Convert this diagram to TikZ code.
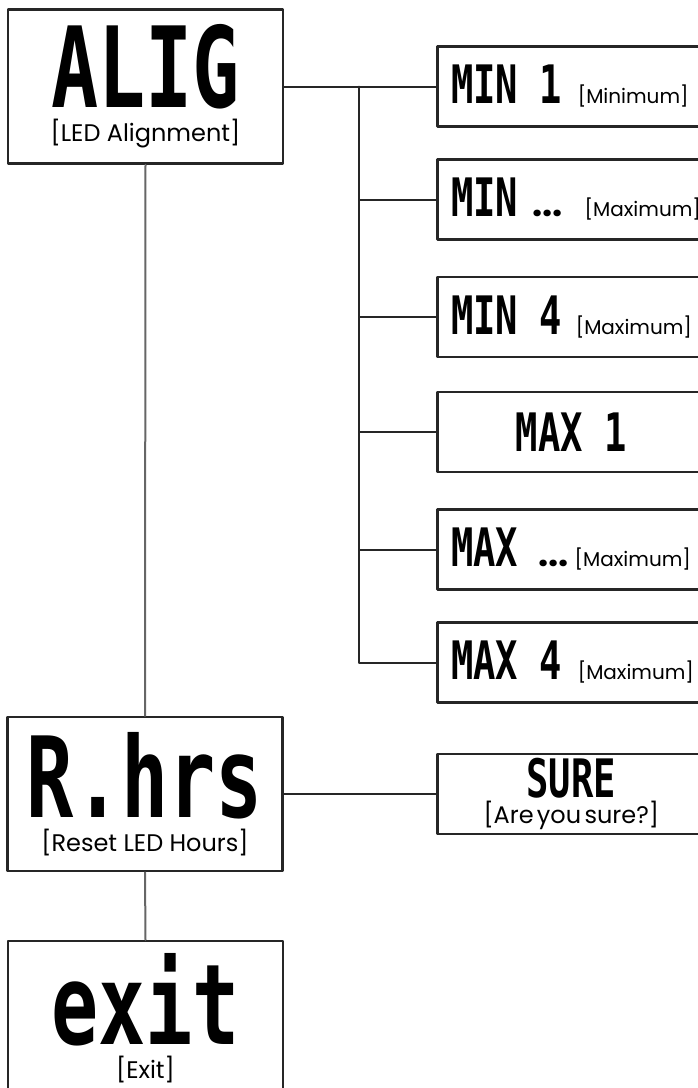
\documentclass[tikz,border=0pt]{standalone}
\usepackage{fontspec}
\setmainfont{Poppins}
\newfontfamily\segfont[FakeStretch=0.7]{DejaVu Sans Mono}
\usepackage{tikz}

\newcommand{\dispbig}[1]{{\fontsize{112}{112}\selectfont\segfont\bfseries #1}}
\newcommand{\dispsmall}[1]{{\fontsize{53}{53}\selectfont\segfont\bfseries\spaceskip=0.4em\relax #1}}
\newcommand{\note}[1]{{\fontsize{24}{26}\selectfont #1}}
\newcommand{\notesmall}[1]{{\fontsize{20}{22}\selectfont #1}}
\newcommand{\seqdots}{{\fontsize{36}{36}\selectfont\bfseries ...}}

\tikzset{
    menubox/.style={draw=black!85, line width=2.5pt, minimum width=275pt, minimum height=154pt, align=center, inner sep=0pt},
    subbox/.style={draw=black!85, line width=2.5pt, minimum height=80pt, text width=290pt, inner xsep=14pt, align=left, anchor=west},
    centred/.style={text width=240pt, align=center},
    trunk/.style={draw=black!60, line width=2pt},
    branch/.style={draw=black!85, line width=2pt}
}

\begin{document}
\begin{tikzpicture}[
    x=1pt, y=-1pt,
    line cap=round,
    line join=round
]
\useasboundingbox (0,0) rectangle (698,1088);
\clip (0,0) rectangle (698,1088);

% main menu entries
\node[menubox] (alig) at (145.5,86.5) {\dispbig{ALIG}\\[9pt]\note{[LED Alignment]}};
\node[menubox] (rhrs) at (145,794) {\dispbig{R.hrs}\\[9pt]\note{[Reset LED Hours]}};
\node[menubox] (exit) at (145.5,1018) {\dispbig{exit}\\[9pt]\note{[Exit]}};

% sub entries
\node[subbox] (minone) at (436,86.5) {\dispsmall{MIN 1}\hspace{16pt}\notesmall{[Minimum]}};
\node[subbox] (mindots) at (436,199.5) {\dispsmall{MIN}\hspace{14pt}\seqdots\hspace{22pt}\notesmall{[Maximum]}};
\node[subbox] (minfour) at (436,317) {\dispsmall{MIN 4}\hspace{14pt}\notesmall{[Maximum]}};
\node[subbox, centred] (maxone) at (436,432) {\dispsmall{MAX 1}};
\node[subbox] (maxdots) at (436,549.5) {\dispsmall{MAX}\hspace{20pt}\seqdots\hspace{6pt}\notesmall{[Maximum]}};
\node[subbox] (maxfour) at (436,662.5) {\dispsmall{MAX 4}\hspace{16pt}\notesmall{[Maximum]}};
\node[subbox, centred] (sure) at (436,794) {\dispsmall{SURE}\\[2pt]\note{[Are you sure?]}};

% connectors
\coordinate (bus) at (359,86.5);
\draw[branch] (alig.east) -- (minone.west);
\draw[branch] (bus) |- (maxfour.west);
\foreach \n in {mindots, minfour, maxone, maxdots}
    \draw[branch] (bus |- \n.west) -- (\n.west);
\draw[branch] (rhrs.east) -- (sure.west);
\draw[trunk] (alig.south) -- (rhrs.north);
\draw[trunk] (rhrs.south) -- (exit.north);

\end{tikzpicture}
\end{document}
